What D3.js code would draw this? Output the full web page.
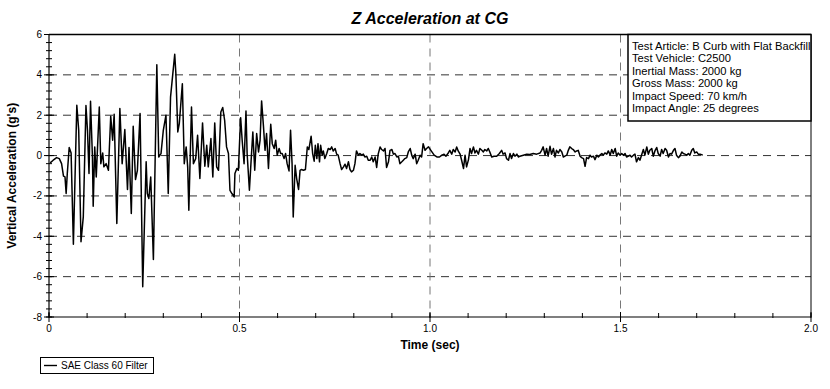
<!DOCTYPE html>
<html lang="en">

<head>
    <meta charset="UTF-8">
    <title>Z Acceleration at CG</title>
    <style>
        body { margin: 0; background: #fff; }
        svg { display: block; font-family: "Liberation Sans", Arial, sans-serif; }
    </style>
</head>

<body>
    <div id="wrapper"></div>

    <script src="https://d3js.org/d3.v7.min.js"></script>
    <script>
        // ---- data ----
        const timeSec = [
            0.003, 0.011, 0.020, 0.027, 0.033, 0.038, 0.042, 0.045, 0.048, 0.053, 0.058, 0.064, 0.073, 0.078, 0.084, 0.090,
            0.097, 0.101, 0.105, 0.109, 0.114, 0.116, 0.120, 0.124, 0.132, 0.136, 0.141, 0.144, 0.150, 0.156, 0.162, 0.167,
            0.171, 0.178, 0.186, 0.192, 0.199, 0.206, 0.210, 0.216, 0.221, 0.227, 0.232, 0.239, 0.246, 0.255, 0.258, 0.262,
            0.267, 0.274, 0.283, 0.288, 0.294, 0.300, 0.307, 0.313, 0.319, 0.325, 0.330, 0.333, 0.338, 0.342, 0.350, 0.355,
            0.360, 0.364, 0.367, 0.374, 0.379, 0.385, 0.390, 0.396, 0.403, 0.409, 0.414, 0.418, 0.425, 0.430, 0.435, 0.440,
            0.445, 0.451, 0.456, 0.461, 0.466, 0.471, 0.475, 0.480, 0.486,
            0.488, 0.493, 0.497, 0.503, 0.507, 0.512, 0.517, 0.520, 0.526, 0.530, 0.535, 0.540, 0.545, 0.550, 0.554, 0.558,
            0.563, 0.567, 0.571, 0.576, 0.582, 0.586, 0.591, 0.595, 0.599, 0.604, 0.608, 0.612, 0.617, 0.621, 0.625, 0.630,
            0.634, 0.638, 0.641, 0.646, 0.650, 0.655, 0.659, 0.662, 0.668, 0.673, 0.678, 0.682, 0.688, 0.692, 0.696, 0.699,
            0.703, 0.706, 0.710, 0.713, 0.717, 0.720, 0.724, 0.729, 0.733, 0.738, 0.742, 0.746, 0.751, 0.755, 0.759, 0.764,
            0.768, 0.773, 0.777, 0.781, 0.786, 0.790, 0.794, 0.799, 0.803, 0.807, 0.812, 0.816, 0.821, 0.825, 0.829, 0.834,
            0.838, 0.843, 0.847, 0.851, 0.856, 0.860, 0.864, 0.869, 0.873, 0.878, 0.882, 0.886, 0.891, 0.895, 0.900, 0.904,
            0.908, 0.913, 0.917, 0.921, 0.926, 0.930, 0.934, 0.939, 0.943, 0.948, 0.952, 0.956, 0.961, 0.965, 0.969, 0.974,
            0.978, 0.982, 0.987, 0.991, 0.996,
            1.005, 1.011, 1.018, 1.025, 1.031, 1.037, 1.042, 1.048, 1.052, 1.057, 1.061, 1.066, 1.070, 1.074, 1.079, 1.083,
            1.088, 1.092, 1.096, 1.101, 1.105, 1.109, 1.114, 1.118, 1.122, 1.127, 1.131, 1.136, 1.140, 1.144, 1.149, 1.153,
            1.157, 1.162, 1.168, 1.175, 1.182, 1.188, 1.192, 1.197, 1.201, 1.206, 1.210, 1.214, 1.219, 1.223, 1.228, 1.232,
            1.236, 1.245, 1.254, 1.262, 1.271, 1.280, 1.289, 1.293, 1.297, 1.302, 1.306, 1.310, 1.315, 1.319, 1.324, 1.328,
            1.332, 1.337, 1.341, 1.346, 1.350, 1.354, 1.359, 1.363, 1.367, 1.372, 1.376, 1.381, 1.385, 1.389, 1.394, 1.398,
            1.403, 1.407, 1.411, 1.416, 1.420, 1.424, 1.429, 1.433, 1.438, 1.442, 1.446, 1.451, 1.455, 1.459, 1.464, 1.468,
            1.473, 1.477, 1.481, 1.486, 1.490, 1.494, 1.499, 1.503, 1.508, 1.512, 1.516, 1.521, 1.525, 1.529, 1.534, 1.538,
            1.542, 1.547, 1.551, 1.556, 1.560, 1.564, 1.569, 1.573, 1.577, 1.582, 1.586, 1.591, 1.595, 1.599, 1.604, 1.608,
            1.612, 1.617, 1.621, 1.626, 1.630, 1.634, 1.639, 1.643, 1.647, 1.652, 1.656, 1.661, 1.665, 1.669, 1.674, 1.678,
            1.682, 1.687, 1.691, 1.695, 1.700, 1.704, 1.709, 1.716
        ];
        const accelG = [
            -0.36, -0.23, -0.10, -0.15, -0.40, -1.02, -1.06, -1.88, -0.89, 0.40, 0.13, -4.39, 2.49, 1.25, -4.27, -3.04,
            2.48, 1.25, -0.89, 2.69, -0.07, -2.51, 0.43, -1.06, 2.41, -0.40, 0.13, -0.56, -0.40, -0.73, 1.95, 0.76,
            2.05, -3.37, 2.33, -0.40, 1.29, -1.68, 0.40, -2.87, 1.45, -1.19, -0.73, 2.08, -6.50, -0.31, -1.88, -2.13,
            -1.06, -5.15, 4.50, -0.07, 0.10, 1.25, 2.00, -1.88, 2.90, 4.06, 5.02, 4.06, 1.17, 1.58, 3.56, -0.40,
            0.43, -0.56, -2.71, 2.41, -0.40, -0.15, 1.01, -1.14, 1.62, -0.53, 0.51, -0.56, 0.84, -1.06, 1.62, -0.56,
            -0.73, 2.16, 2.38, 1.75, 0.43, 0.10, -1.72, -1.88, -2.05,
            -0.89, -0.64, -0.73, 1.88, 0.76, -0.40, 2.21, 0.10, -1.72, -0.40, 1.17, -0.73, 1.09, 0.18, 0.76, 2.71,
            1.42, 0.26, 1.09, -0.64, 1.55, 0.59, 0.35, 0.76, 0.02, 0.35, 0.10, 0.10, -0.15, 0.10, -0.40, -0.76,
            1.25, -0.40, -3.04, -0.48, -1.14, -1.68, -0.73, -0.69, -0.73, -0.69, 0.43, 0.30, 0.96, 0.10, -0.28, 0.51,
            -0.15, 0.59, -0.31, 0.51, 0.02, 0.23, -0.15, 0.10, 0.35, 0.30, 0.43, 0.23, 0.35, 0.07, 0.02, -0.40,
            -0.69, -0.56, -0.43, -0.64, -0.31, -0.69, -0.81, -0.73, -0.40, 0.23, 0.02, 0.10, 0.02, 0.07, -0.07, -0.03,
            -0.23, -0.23, -0.07, -0.31, -0.07, -0.59, 0.07, 0.43, 0.30, 0.23, 0.35, -0.59, -0.31, 0.26, 0.30, 0.07,
            0.10, -0.07, -0.03, -0.40, -0.31, -0.23, -0.15, -0.10, 0.18, 0.35, 0.02, -0.15, 0.07, -0.40, -0.23, 0.02,
            -0.07, 0.59, 0.26, 0.35, 0.43,
            0.18, 0.02, -0.07, -0.07, 0.02, 0.07, -0.03, 0.13, 0.26, 0.07, 0.30, 0.18, 0.43, 0.23, 0.07, -0.23,
            -0.64, 0.02, -0.56, -0.20, 0.35, 0.10, 0.43, 0.13, 0.26, 0.07, 0.35, 0.26, 0.18, 0.30, 0.23, 0.35,
            0.18, -0.07, -0.03, -0.03, 0.10, 0.26, 0.07, 0.13, -0.15, -0.23, 0.10, -0.15, 0.10, -0.03, 0.07, -0.07,
            -0.03, 0.02, 0.07, 0.05, 0.10, 0.07, 0.13, 0.26, 0.43, 0.02, 0.35, -0.03, 0.46, 0.07, 0.35, -0.07,
            0.26, 0.13, 0.30, 0.18, -0.07, -0.03, 0.02, 0.26, 0.43, 0.35, 0.30, 0.18, 0.23, 0.26, -0.03, -0.10,
            -0.15, -0.53, -0.10, -0.15, 0.02, -0.07, -0.03, -0.20, 0.02, -0.07, 0.02, 0.10, 0.02, 0.13, 0.07, 0.23,
            0.02, 0.30, 0.10, 0.35, -0.03, 0.13, 0.02, 0.10, 0.02, 0.10, -0.07, -0.03, 0.02, -0.07, 0.02, 0.07,
            -0.31, -0.10, -0.23, 0.07, 0.30, 0.02, 0.43, 0.07, 0.26, 0.35, -0.03, 0.26, 0.40, 0.10, -0.03, 0.30,
            0.10, 0.35, 0.26, -0.07, 0.10, 0.07, 0.26, 0.35, 0.02, -0.10, -0.03, 0.18, 0.10, 0.07, 0.02, 0.10,
            0.02, 0.26, 0.35, 0.13, 0.18, 0.07, 0.07, 0.02
        ];

        const xTicks = [0, 0.5, 1.0, 1.5, 2.0];
        const xTickLabels = ['0', '0.5', '1.0', '1.5', '2.0'];
        const yTicks = [-8, -6, -4, -2, 0, 2, 4, 6];
        const infoLines = [
            'Test Article: B Curb with Flat Backfill',
            'Test Vehicle: C2500',
            'Inertial Mass: 2000 kg',
            'Gross Mass: 2000 kg',
            'Impact Speed: 70 km/h',
            'Impact Angle: 25 degrees'
        ];
        const legendLabel = 'SAE Class 60 Filter';

        // ---- canvas ----
        const svgwidth = 830, svgheight = 389;
        const plotLeft = 49, plotRight = 811, plotTop = 34.5, plotBottom = 317;

        const svg = d3.select('#wrapper').append('svg')
            .attr('width', svgwidth)
            .attr('height', svgheight);

        const xScale = d3.scaleLinear().domain([0, 2]).range([plotLeft, plotRight]);
        const yScale = d3.scaleLinear().domain([-8, 6]).range([plotBottom, plotTop]);

        // 標題
        svg.append('text')
            .attr('x', (plotLeft + plotRight) / 2).attr('y', 24)
            .attr('text-anchor', 'middle')
            .style('font-size', '16px').style('font-weight', 'bold').style('font-style', 'italic')
            .text('Z Acceleration at CG');

        // ---- dashed grid ----
        const grid = svg.append('g').attr('class', 'grid');
        grid.selectAll('line.h')
            .data(yTicks.filter(d => d > -8 && d < 6))
            .enter().append('line')
            .attr('class', 'h')
            .attr('x1', plotLeft).attr('x2', plotRight)
            .attr('y1', d => yScale(d)).attr('y2', d => yScale(d))
            .attr('stroke', '#333').attr('stroke-dasharray', '8,6');
        grid.selectAll('line.v')
            .data(xTicks.filter(d => d > 0 && d < 2))
            .enter().append('line')
            .attr('class', 'v')
            .attr('x1', d => xScale(d)).attr('x2', d => xScale(d))
            .attr('y1', plotTop).attr('y2', plotBottom)
            .attr('stroke', '#777').attr('stroke-dasharray', '8,6');

        // ---- data line ----
        const series = timeSec.map((t, i) => [t, accelG[i]]);
        svg.append('path')
            .datum(series)
            .attr('fill', 'none')
            .attr('stroke', '#000')
            .attr('stroke-width', 1.5)
            .attr('stroke-linejoin', 'round')
            .attr('d', d3.line().x(d => xScale(d[0])).y(d => yScale(d[1])));

        // ---- frame: top and right border ----
        svg.append('line').attr('x1', plotLeft).attr('x2', plotRight).attr('y1', plotTop).attr('y2', plotTop)
            .attr('stroke', '#000').attr('stroke-width', 1.5);
        svg.append('line').attr('x1', plotRight).attr('x2', plotRight).attr('y1', plotTop).attr('y2', plotBottom)
            .attr('stroke', '#000').attr('stroke-width', 1);

        // ---- Y axis ----
        const yAxis = svg.append('g').attr('class', 'y-axis');
        yAxis.append('line').attr('x1', plotLeft).attr('x2', plotLeft).attr('y1', plotTop).attr('y2', plotBottom)
            .attr('stroke', '#000').attr('stroke-width', 1.2);
        const yMinor = d3.range(0, 36).map(i => -8 + i * 0.4);
        yAxis.selectAll('line.minor')
            .data(yMinor).enter().append('line')
            .attr('class', 'minor')
            .attr('x1', plotLeft - 3).attr('x2', plotLeft + 3)
            .attr('y1', d => yScale(d)).attr('y2', d => yScale(d))
            .attr('stroke', '#000');
        yAxis.selectAll('line.major')
            .data(yTicks).enter().append('line')
            .attr('class', 'major')
            .attr('x1', plotLeft - 5).attr('x2', plotLeft + 5)
            .attr('y1', d => yScale(d)).attr('y2', d => yScale(d))
            .attr('stroke', '#000');
        yAxis.selectAll('text')
            .data(yTicks).enter().append('text')
            .attr('x', plotLeft - 7).attr('y', d => yScale(d) + 3.5)
            .attr('text-anchor', 'end')
            .style('font-size', '10px')
            .text(d => d);

        // Y標籤
        svg.append('text')
            .attr('transform', `translate(16,${(plotTop + plotBottom) / 2}) rotate(-90)`)
            .attr('text-anchor', 'middle')
            .style('font-size', '12px').style('font-weight', 'bold')
            .text("Vertical Acceleration (g's)");

        // ---- X axis ----
        const xAxis = svg.append('g').attr('class', 'x-axis');
        xAxis.append('line').attr('x1', plotLeft).attr('x2', plotRight).attr('y1', plotBottom).attr('y2', plotBottom)
            .attr('stroke', '#000').attr('stroke-width', 1.2);
        const xMinor = d3.range(0, 21).map(i => i * 0.1);
        xAxis.selectAll('line.minor')
            .data(xMinor).enter().append('line')
            .attr('class', 'minor')
            .attr('x1', d => xScale(d)).attr('x2', d => xScale(d))
            .attr('y1', plotBottom - 4).attr('y2', plotBottom + 1)
            .attr('stroke', '#000');
        xAxis.selectAll('line.major')
            .data(xTicks).enter().append('line')
            .attr('class', 'major')
            .attr('x1', d => xScale(d)).attr('x2', d => xScale(d))
            .attr('y1', plotBottom - 5).attr('y2', plotBottom + 5)
            .attr('stroke', '#000');
        xAxis.selectAll('text')
            .data(xTicks).enter().append('text')
            .attr('x', d => xScale(d)).attr('y', plotBottom + 15)
            .attr('text-anchor', 'middle')
            .style('font-size', '10px')
            .text((d, i) => xTickLabels[i]);

        // X標籤
        svg.append('text')
            .attr('x', (plotLeft + plotRight) / 2).attr('y', 349)
            .attr('text-anchor', 'middle')
            .style('font-size', '12px').style('font-weight', 'bold')
            .text('Time (sec)');

        // ---- info box ----
        const info = svg.append('g').attr('class', 'info');
        info.append('rect')
            .attr('x', 628).attr('y', plotTop).attr('width', plotRight - 628).attr('height', 121 - plotTop)
            .attr('fill', '#fff');
        info.selectAll('text')
            .data(infoLines).enter().append('text')
            .attr('x', 632).attr('y', (d, i) => 50 + i * 12.4)
            .style('font-size', '11.2px')
            .text(d => d);
        info.append('rect')
            .attr('x', 628).attr('y', plotTop).attr('width', plotRight - 628).attr('height', 121 - plotTop)
            .attr('fill', 'none').attr('stroke', '#000').attr('stroke-width', 1.5);

        // ---- legend ----
        const legend = svg.append('g').attr('class', 'legend');
        legend.append('rect')
            .attr('x', 40.5).attr('y', 357.5).attr('width', 113).attr('height', 16)
            .attr('fill', '#fff').attr('stroke', '#000');
        legend.append('line')
            .attr('x1', 44).attr('x2', 57).attr('y1', 365.5).attr('y2', 365.5)
            .attr('stroke', '#000').attr('stroke-width', 1.4);
        legend.append('text')
            .attr('x', 61).attr('y', 369)
            .style('font-size', '10px')
            .text(legendLabel);
    </script>
</body>

</html>
